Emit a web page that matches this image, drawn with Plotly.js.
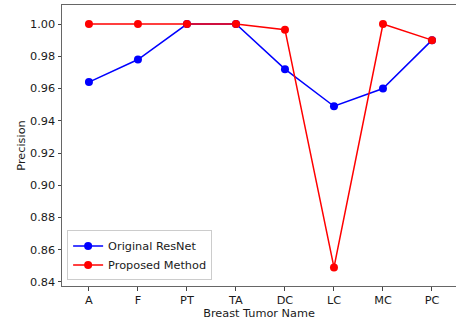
<!DOCTYPE html>
<html>
<head>
<meta charset="utf-8">
<script src="https://cdn.plot.ly/plotly-3.0.1.min.js"></script>
<style>html,body{margin:0;padding:0;background:#fff;}#chart{width:456px;height:324px;}</style>
</head>
<body>
<div id="chart"></div>
<script>
const categories = ["A", "F", "PT", "TA", "DC", "LC", "MC", "PC"];
const originalResNet = [0.964, 0.978, 1.000, 1.000, 0.972, 0.949, 0.960, 0.990];
const proposedMethod = [1.000, 1.000, 1.000, 1.000, 0.9965, 0.849, 1.000, 0.990];
const yTickVals = [0.84, 0.86, 0.88, 0.90, 0.92, 0.94, 0.96, 0.98, 1.00];

const idx = categories.map((c, i) => i);

const traces = [
  {x: idx, y: originalResNet, name: "Original ResNet", mode: "lines+markers",
   line: {color: "#0000ff", width: 1.5}, marker: {color: "#0000ff", size: 8}},
  {x: idx, y: proposedMethod, name: "Proposed Method", mode: "lines+markers",
   line: {color: "#ff0000", width: 1.5}, marker: {color: "#ff0000", size: 8}}
];

const font = {family: "DejaVu Sans, sans-serif", size: 11.3, color: "#1a1a1a"};

const layout = {
  width: 456, height: 324,
  margin: {l: 62, r: 0, t: 5, b: 38},
  paper_bgcolor: "#fff", plot_bgcolor: "#fff",
  font: font,
  showlegend: true,
  legend: {x: 0.013, y: 0.02, xanchor: "left", yanchor: "bottom",
           bgcolor: "rgba(255,255,255,0.8)", bordercolor: "#cccccc", borderwidth: 1,
           font: font, tracegroupgap: 0},
  xaxis: {
    range: [-0.55, 7.49], tickmode: "array", tickvals: idx, ticktext: categories,
    showgrid: false, zeroline: false, showline: true, mirror: true,
    linecolor: "#666", linewidth: 1, ticks: "outside", ticklen: 3.5, tickcolor: "#444",
    title: {text: "Breast Tumor Name", font: font, standoff: 3},
    tickfont: font
  },
  yaxis: {
    range: [0.8375, 1.0118], tickmode: "array", tickvals: yTickVals,
    ticktext: yTickVals.map(v => v.toFixed(2)),
    showgrid: false, zeroline: false, showline: true, mirror: false,
    linecolor: "#666", linewidth: 1, ticks: "outside", ticklen: 3.5, tickcolor: "#444",
    title: {text: "Precision", font: font, standoff: 2},
    tickfont: font
  }
};

Plotly.newPlot("chart", traces, layout, {displayModeBar: false, staticPlot: true});
</script>
</body>
</html>
